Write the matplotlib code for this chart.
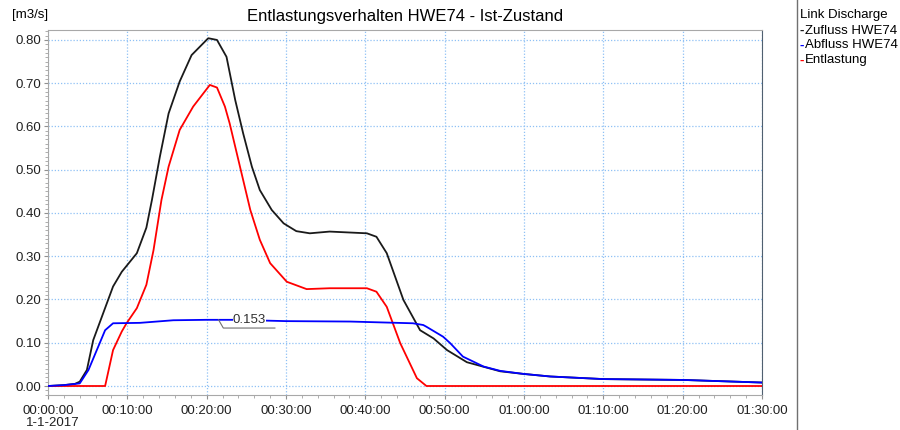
import matplotlib
matplotlib.use('Agg')
import matplotlib.pyplot as plt
from matplotlib.ticker import MultipleLocator, FuncFormatter

plt.rcParams.update({
    'font.family': ['Liberation Sans', 'DejaVu Sans'],
    'font.size': 9.5,
})

# time in minutes after 2017-01-01 00:00:00, discharge in m3/s
t_zufluss = [0, 2.0, 3.4, 4.0, 4.9, 5.7, 8.2, 9.3, 11.2, 12.4, 13.1, 14.1,
             15.2, 16.6, 18.1, 20.2, 21.3, 22.5, 23.6, 24.6, 25.7, 26.7, 28.2,
             29.7, 31.3, 33.0, 35.5, 40.2, 41.4, 42.7, 44.8, 46.9, 48.6, 50.3,
             52.8, 57.0, 59.9, 63.3, 70.0, 80.1, 90.0]
q_zufluss = [0.0, 0.002, 0.005, 0.01, 0.037, 0.106, 0.23, 0.264, 0.307,
             0.366, 0.43, 0.53, 0.63, 0.704, 0.765, 0.804, 0.80, 0.761, 0.661,
             0.584, 0.507, 0.453, 0.407, 0.376, 0.358, 0.353, 0.357, 0.353,
             0.345, 0.307, 0.199, 0.129, 0.110, 0.083, 0.055, 0.034, 0.028,
             0.022, 0.016, 0.014, 0.008]

t_abfluss = [0, 2.0, 4.0, 5.1, 7.2, 8.2, 11.6, 15.8, 20.0, 23.4, 30.0, 38.1,
             46.0, 47.3, 47.7, 49.8, 50.7, 52.3, 54.9, 57.0, 59.9, 63.3, 70.0,
             80.1, 90.0]
q_abfluss = [0.0, 0.002, 0.006, 0.037, 0.129, 0.145, 0.146, 0.152, 0.153,
             0.153, 0.150, 0.149, 0.145, 0.141, 0.137, 0.114, 0.099, 0.068,
             0.045, 0.035, 0.028, 0.022, 0.016, 0.014, 0.008]

t_entlastung = [0, 7.2, 8.2, 9.3, 9.9, 11.2, 12.4, 13.3, 14.3, 15.2, 16.6,
                18.3, 20.4, 21.3, 22.3, 22.9, 24.2, 25.5, 26.7, 28.0, 30.1,
                32.6, 35.5, 40.2, 41.4, 42.7, 44.4, 46.5, 47.7, 90.0]
q_entlastung = [0.0, 0.0, 0.083, 0.126, 0.145, 0.18, 0.234, 0.314, 0.43, 0.507,
                0.592, 0.646, 0.696, 0.69, 0.646, 0.607, 0.507, 0.407, 0.338,
                0.284, 0.241, 0.224, 0.226, 0.226, 0.218, 0.183, 0.099, 0.018,
                0.0, 0.0]

series_names = ['Zufluss HWE74', 'Abfluss HWE74', 'Entlastung']
series_colors = ['#1a1a1a', '#0000ff', '#ff0000']

peak_abfluss = 0.153
peak_time = 21.8


def hms(x, pos=None):
    m = int(round(x))
    return f'{m // 60:02d}:{m % 60:02d}:00'


fig = plt.figure(figsize=(9, 4.3), dpi=100)
ax = fig.add_axes([48 / 900, 1 - 395 / 430, 714 / 900, 365 / 430])

ax.plot(t_zufluss, q_zufluss, color=series_colors[0], lw=1.3, zorder=3)
ax.plot(t_abfluss, q_abfluss, color=series_colors[1], lw=1.3, zorder=4)
ax.plot(t_entlastung, q_entlastung, color=series_colors[2], lw=1.3, zorder=3)

ax.set_xlim(0, 90)
ax.set_ylim(-0.0208, 0.823)
ax.xaxis.set_major_locator(MultipleLocator(10))
ax.xaxis.set_minor_locator(MultipleLocator(2))
ax.xaxis.set_major_formatter(FuncFormatter(hms))
ax.yaxis.set_major_locator(MultipleLocator(0.1))
ax.yaxis.set_minor_locator(MultipleLocator(0.01))
ax.yaxis.set_major_formatter(FuncFormatter(lambda v, p: f'{v:.2f}'))

ax.grid(True, which='major', color='#8fc0f5', linestyle=(0, (1, 1.5)), lw=0.9)
ax.tick_params(axis='both', which='major', length=3, color='#909090',
               labelsize=9.5, labelcolor='#202020', pad=2)
ax.tick_params(axis='x', which='major', pad=4)
ax.tick_params(axis='both', which='minor', length=2, color='#a0a0a0')
for side in ['left', 'bottom', 'top']:
    ax.spines[side].set_color('#a8a8a8')
ax.spines['right'].set_color('#506070')

# peak label for the outflow
ax.plot([peak_time - 0.3, peak_time + 0.3, peak_time + 6.8],
        [peak_abfluss, peak_abfluss - 0.019, peak_abfluss - 0.019],
        color='#707070', lw=0.8, zorder=5)
ax.text(peak_time + 1.5, peak_abfluss, f'{peak_abfluss:.3f}', fontsize=9.5,
        va='center', ha='left', color='#303030', zorder=6,
        bbox=dict(facecolor='white', edgecolor='none', pad=0.2))

fig.text(405 / 900, 1 - 17 / 430, 'Entlastungsverhalten HWE74 - Ist-Zustand',
         ha='center', va='center', fontsize=12)
fig.text(12 / 900, 1 - 15 / 430, '[m3/s]', ha='left', va='center', fontsize=9.5)
fig.text(26 / 900, 1 - 423 / 430, '1-1-2017', ha='left', va='center',
         fontsize=9.5, color='#202020')

# legend panel on the right
fig.add_artist(plt.Line2D([797 / 900, 797 / 900], [0, 1], color='#707070', lw=1))
fig.text(800 / 900, 1 - 15 / 430, 'Link Discharge', ha='left', va='center',
         fontsize=9.5)
for i, (name, col) in enumerate(zip(series_names, series_colors)):
    y = 1 - (30.5 + 15 * i) / 430
    fig.text(799 / 900, y, '-', color=col, ha='left', va='center', fontsize=9.5,
             fontweight='bold')
    fig.text(805 / 900, y, name, ha='left', va='center', fontsize=9.5)

fig.savefig('out.png', dpi=100)
